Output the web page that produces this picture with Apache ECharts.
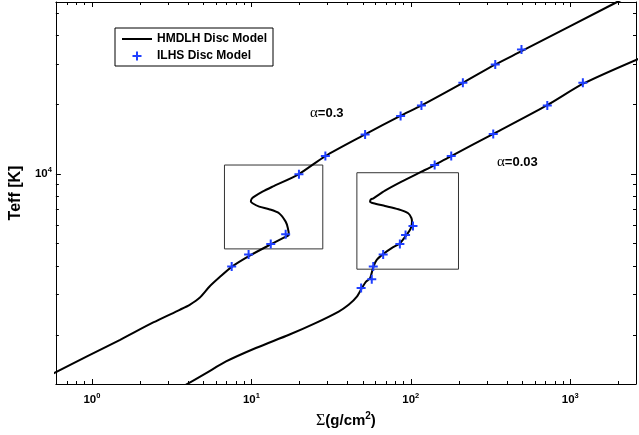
<!DOCTYPE html>
<html>
<head>
<meta charset="utf-8">
<script src="https://cdn.jsdelivr.net/npm/echarts@6/dist/echarts.min.js"></script>
<style>html,body{margin:0;padding:0;background:#fff;}#c{width:639px;height:435px;}</style>
</head>
<body>
<div id="c"></div>
<script>
// ---- Data (Sigma [g/cm^2], Teff [K]) ----
const hmdlhAlpha03 = [[0.55,1346],[0.931,1619],[1.503,1911],[2.424,2272],[3.555,2578],[4.104,2710],[4.736,2906],[5.467,3252],[6.31,3564],[7.526,3958],[9.703,4416],[13.23,4952],[16.33,5338],[17.18,5444],[16.93,5838],[16.41,6217],[14.92,6760],[12.93,7035],[11.2,7218],[10.17,7468],[9.93,7603],[10.03,7794],[10.42,7974],[11.74,8383],[13.56,8811],[19.88,10000],[29.12,11966],[51.69,14852],[85.4,17830],[116.6,19832],[212.1,24850],[337.2,29790],[494.5,34080],[1968,55700],[2600,61000]];
const hmdlhAlpha003 = [[3.469,1166],[5.206,1371],[6.937,1539],[10.67,1760],[17.22,2010],[25.23,2258],[35.3,2534],[40.74,2710],[45.89,2943],[49.29,3201],[52.22,3408],[55.53,3536],[58.31,3970],[61.14,4244],[67.3,4505],[75.8,4769],[85.4,5012],[94.0,5444],[99.6,5781],[101.7,6198],[101.0,6431],[96.3,6760],[83.5,7035],[68.9,7270],[58.31,7468],[55.53,7588],[56.1,7755],[58.31,7848],[68.9,8466],[87.5,9262],[116.6,10233],[141.1,10939],[179.3,11966],[333.9,15002],[718,19891],[1214,24700],[2737,31780]];
const ilhsAlpha03 = [[7.526,3970],[9.607,4473],[13.23,4977],[16.41,5482],[19.88,9970],[29.12,11966],[51.69,14852],[86.3,17830],[116.6,19832],[212.1,24850],[338.6,29850],[494.5,34660]];
const ilhsAlpha003 = [[48.8,3201],[56.9,3494],[58.15,3970],[67.1,4482],[85.4,4977],[92.7,5444],[103.2,5956],[141.1,10939],[179.3,11966],[328.9,14900],[718,19832],[1200,24850]];
const box1 = [[6.78,4735],[28.05,4735],[28.05,10939],[6.78,10939],[6.78,4735]];
const box2 = [[45.9,3867],[199.1,3867],[199.1,10130],[45.9,10130],[45.9,3867]];
const xMajorTicks = [1,10,100,1000];
const xMinorTicks = [0.6,0.7,0.8,0.9,2,3,4,5,6,7,8,9,20,30,40,50,60,70,80,90,200,300,400,500,600,700,800,900,2000];
const yMajorTicks = [10000];
const yMinorTicks = [2000,3000,4000,5000,6000,7000,8000,9000,20000,30000,40000,50000];
const xRange = [0.594, 2585];
const yRange = [1229, 55700];

const FONT = 'Liberation Sans, Arial, Helvetica, sans-serif';
const SERIF = 'Liberation Serif, Times New Roman, serif';
const PLUS = 'path://M3.5,0H5.5V3.5H9V5.5H5.5V9H3.5V5.5H0V3.5H3.5Z';
const LINE_ICON = 'path://M0,0M0,9M0,3.5H30V5.5H0Z';
const BLUE = '#1f3fff';

const powLabel = v => '{b|10}{s|' + Math.round(Math.log10(v)) + '}';
const labelRich = {
  b: {fontFamily: FONT, fontWeight: 'bold', fontSize: 11.5, color: '#000'},
  s: {fontFamily: FONT, fontWeight: 'bold', fontSize: 7.5, color: '#000', padding: [0,0,8,0]}
};

function mkX(pos, major) {
  return {
    type: 'log', logBase: 10, min: xRange[0], max: xRange[1], position: pos, gridIndex: 0,
    axisLine: {show: major, lineStyle: {color: '#000', width: 1}},
    axisTick: {show: true, inside: true, length: major ? 5 : 3, lineStyle: {color: '#000', width: 1},
      customValues: major ? xMajorTicks : xMinorTicks},
    axisLabel: (major && pos === 'bottom') ? {show: true, customValues: xMajorTicks, formatter: powLabel, rich: labelRich, margin: 8} : {show: false},
    splitLine: {show: false}, minorTick: {show: false}
  };
}
function mkY(pos, major) {
  return {
    type: 'log', logBase: 10, min: yRange[0], max: yRange[1], position: pos, gridIndex: 0,
    axisLine: {show: major, lineStyle: {color: '#000', width: 1}},
    axisTick: {show: true, inside: true, length: major ? 5 : 3, lineStyle: {color: '#000', width: 1},
      customValues: major ? yMajorTicks : yMinorTicks},
    axisLabel: (major && pos === 'left') ? {show: true, customValues: yMajorTicks, formatter: powLabel, rich: labelRich, margin: 4} : {show: false},
    splitLine: {show: false}, minorTick: {show: false}
  };
}

const xAxes = [mkX('bottom', true), mkX('bottom', false), mkX('top', true), mkX('top', false)];
const yAxes = [mkY('left', true), mkY('left', false), mkY('right', true), mkY('right', false)];
xAxes[0].name = '{sg|Σ}{t|(g/cm}{p|2}{t|)}';
xAxes[0].nameLocation = 'middle';
xAxes[0].nameGap = 17;
xAxes[0].nameTextStyle = {rich: {
  sg: {fontFamily: SERIF, fontSize: 16, color: '#000'},
  t: {fontFamily: FONT, fontWeight: 'bold', fontSize: 15, color: '#000'},
  p: {fontFamily: FONT, fontWeight: 'bold', fontSize: 10, color: '#000', padding: [0,0,9,0]}
}};
yAxes[0].name = 'Teff [K]';
yAxes[0].nameLocation = 'middle';
yAxes[0].nameRotate = 90;
yAxes[0].nameGap = 27;
yAxes[0].nameTextStyle = {fontFamily: FONT, fontWeight: 'bold', fontSize: 16, color: '#000'};

const lineSeries = (name, data) => ({
  name: name, type: 'line', data: data, xAxisIndex: 0, yAxisIndex: 0,
  symbol: 'none', smooth: 0.25, clip: true,
  lineStyle: {color: '#000', width: 2}, itemStyle: {color: '#000'}, z: 3
});
const boxSeries = data => ({
  type: 'line', data: data, xAxisIndex: 0, yAxisIndex: 0, symbol: 'none', silent: true,
  lineStyle: {color: '#333', width: 1}, z: 2
});
const scatterSeries = (name, data) => ({
  name: name, type: 'scatter', data: data, xAxisIndex: 0, yAxisIndex: 0,
  symbol: PLUS, symbolSize: 9, symbolKeepAspect: true,
  itemStyle: {color: BLUE, opacity: 1}, z: 5
});

const alphaRich = {
  a: {fontFamily: SERIF, fontSize: 15, fill: '#000'},
  b: {fontFamily: FONT, fontWeight: 'bold', fontSize: 13, fill: '#000'}
};

const chart = echarts.init(document.getElementById('c'), null, {renderer: 'canvas'});
chart.setOption({
  animation: false,
  backgroundColor: '#fff',
  grid: {left: 52, right: 3, top: 2, bottom: 51, containLabel: false},
  xAxis: xAxes,
  yAxis: yAxes,
  legend: {
    left: 115, top: 28, orient: 'vertical',
    backgroundColor: '#fff', borderColor: '#000', borderWidth: 1,
    padding: [4, 6, 3, 7], itemGap: 3, itemWidth: 30, itemHeight: 9,
    textStyle: {fontFamily: FONT, fontWeight: 'bold', fontSize: 12, color: '#000', lineHeight: 14},
    data: [{name: 'HMDLH Disc Model', icon: LINE_ICON, itemStyle: {color: '#000'}}, {name: 'ILHS Disc Model'}]
  },
  graphic: [
    {type: 'text', left: 310, top: 106, style: {text: '{a|α}{b|=0.3}', rich: alphaRich}},
    {type: 'text', left: 497, top: 155, style: {text: '{a|α}{b|=0.03}', rich: alphaRich}}
  ],
  series: [
    boxSeries(box1), boxSeries(box2),
    lineSeries('HMDLH Disc Model', hmdlhAlpha03),
    lineSeries('HMDLH Disc Model', hmdlhAlpha003),
    scatterSeries('ILHS Disc Model', ilhsAlpha03),
    scatterSeries('ILHS Disc Model', ilhsAlpha003)
  ]
});
</script>
</body>
</html>
